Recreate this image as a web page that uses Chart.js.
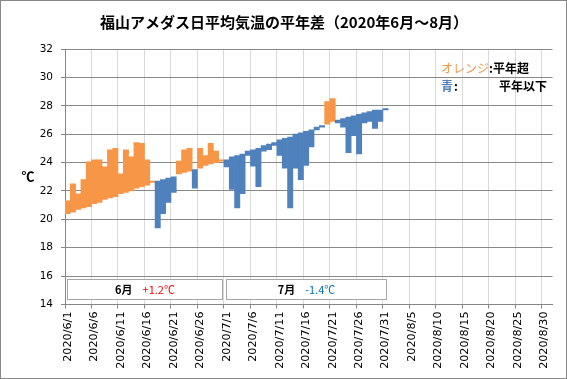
<!DOCTYPE html>
<html><head><meta charset="utf-8">
<script src="https://cdn.jsdelivr.net/npm/chart.js@4/dist/chart.umd.min.js"></script>
<style>html,body{margin:0;padding:0;background:#fff;}canvas{display:block;}</style>
</head><body>
<canvas id="c" width="567" height="379"></canvas>
<script>
// Categories: every day 2020/6/1 .. 2020/8/31
const months = [6, 7, 8];
const monthDays = [30, 31, 31];
const categories = [];
months.forEach((m, k) => { for (let d = 1; d <= monthDays[k]; d++) categories.push('2020/' + m + '/' + d); });

// Normal (平年) daily mean temperature, 6/1 .. 7/31
const normalTemp = [
  20.4, 20.5, 20.7, 20.8, 20.9, 21.1, 21.2, 21.4, 21.5, 21.6,
  21.8, 21.9, 22.0, 22.2, 22.3, 22.4, 22.6, 22.7, 22.8, 22.9,
  23.0, 23.2, 23.3, 23.4, 23.5, 23.6, 23.8, 23.9, 24.0, 24.1,
  24.2, 24.4, 24.5, 24.6, 24.8, 24.9, 25.0, 25.2, 25.3, 25.4,
  25.6, 25.7, 25.8, 26.0, 26.1, 26.2, 26.3, 26.5, 26.6, 26.7,
  26.9, 27.0, 27.1, 27.2, 27.3, 27.4, 27.5, 27.6, 27.7, 27.7,
  27.8
];
// Observed daily mean temperature, 6/1 .. 7/31
const actualTemp = [
  21.3, 22.5, 21.8, 22.8, 24.05, 24.2, 24.2, 23.7, 24.9, 25.0,
  23.2, 24.9, 24.4, 25.4, 25.35, 24.2, 22.7, 19.4, 20.4, 21.2,
  21.9, 24.1, 24.9, 25.0, 22.2, 25.0, 24.5, 25.35, 24.8, 24.2,
  23.7, 22.1, 20.8, 21.8, 24.5, 23.75, 22.3, 24.8, 24.9, 25.2,
  24.5, 23.6, 20.8, 23.6, 22.8, 23.8, 25.1, 26.3, 26.5, 28.3,
  28.5, 26.8, 26.5, 24.7, 25.9, 24.6, 26.8, 26.9, 26.4, 26.9,
  27.7
];
const yMin = 14, yMax = 32, yStep = 2;
const monthSummary = [
  { label: '6月', diff: '+1.2℃', color: '#FF0000' },
  { label: '7月', diff: '-1.4℃', color: '#0070C0' }
];

const ORANGE = '#F79646', BLUE = '#4F81BD';
const barData = categories.map((c, i) => i < actualTemp.length ? [normalTemp[i], actualTemp[i]] : null);
const barColors = categories.map((c, i) => i < actualTemp.length && actualTemp[i] > normalTemp[i] ? ORANGE : BLUE);

const JP = '"Noto Sans CJK JP", "DejaVu Sans", sans-serif';

const overlay = {
  id: 'overlay',
  afterDatasetsDraw(chart) {
    const ctx = chart.ctx;
    const xs = chart.scales.x;
    ctx.save();
    const boxY1 = 279.5, boxY2 = 299.5;
    const spans = [[0, 29], [30, 60]];
    spans.forEach((s, k) => {
      const half = (xs.getPixelForValue(1) - xs.getPixelForValue(0)) / 2;
      const x1 = Math.round(xs.getPixelForValue(s[0]) - half) + 2.5;
      const x2 = Math.round(xs.getPixelForValue(s[1]) + half) - 1.5;
      ctx.fillStyle = '#fff';
      ctx.fillRect(x1, boxY1, x2 - x1, boxY2 - boxY1);
      ctx.strokeStyle = '#A6A6A6';
      ctx.lineWidth = 1;
      ctx.strokeRect(x1, boxY1, x2 - x1, boxY2 - boxY1);
      const m = monthSummary[k];
      ctx.textBaseline = 'middle';
      ctx.textAlign = 'left';
      const cx = (x1 + x2) / 2;
      ctx.font = 'bold 11px ' + JP;
      const w1 = ctx.measureText(m.label).width;
      ctx.font = '11px ' + JP;
      const w2 = ctx.measureText(m.diff).width;
      const gap = 10;
      let sx = cx - (w1 + gap + w2) / 2;
      ctx.font = 'bold 11px ' + JP;
      ctx.fillStyle = '#000';
      ctx.fillText(m.label, sx, 289.5);
      ctx.font = '11px ' + JP;
      ctx.fillStyle = m.color;
      ctx.fillText(m.diff, sx + w1 + gap, 289.5);
    });
    ctx.restore();
  },
  afterDraw(chart) {
    const ctx = chart.ctx;
    ctx.save();
    ctx.fillStyle = '#000';
    ctx.font = 'bold 15px ' + JP;
    ctx.textAlign = 'center';
    ctx.textBaseline = 'middle';
    ctx.fillText('福山アメダス日平均気温の平年差（2020年6月～8月）', 284, 22.5);
    ctx.font = 'bold 13px ' + JP;
    ctx.fillText('℃', 28, 176);
    ctx.textAlign = 'left';
    ctx.font = '12px ' + JP;
    ctx.fillStyle = ORANGE;
    ctx.fillText('オレンジ', 441, 68.5);
    let w = ctx.measureText('オレンジ').width;
    ctx.font = 'bold 12px ' + JP;
    ctx.fillStyle = '#000';
    ctx.fillText(':平年超', 441 + w, 68.5);
    ctx.fillStyle = BLUE;
    ctx.fillText('青', 441, 86);
    let w2 = ctx.measureText('青').width;
    ctx.fillStyle = '#000';
    ctx.fillText(':', 441 + w2 + 1, 86);
    ctx.fillText('平年以下', 499, 86);
    ctx.strokeStyle = '#888';
    ctx.lineWidth = 1;
    ctx.strokeRect(0.5, 0.5, 566, 378);
    ctx.restore();
  }
};

new Chart(document.getElementById('c'), {
  type: 'bar',
  data: {
    labels: categories,
    datasets: [{
      data: barData,
      backgroundColor: barColors,
      borderWidth: 0,
      barPercentage: 1.0,
      categoryPercentage: 1.0
    }]
  },
  options: {
    responsive: false,
    animation: false,
    devicePixelRatio: 1,
    layout: { padding: { top: 49, left: 0, right: 14.5, bottom: 0 } },
    plugins: { legend: { display: false }, title: { display: false }, tooltip: { enabled: false } },
    scales: {
      x: {
        type: 'category',
        offset: true,
        afterFit(s) { s.height = 379 - 304.5; },
        border: { color: '#868686', width: 1 },
        grid: {
          offset: true,
          drawTicks: true,
          tickLength: 4,
          color: (c) => (c.index % 5 === 0 && c.index < categories.length) ? '#D9D9D9' : 'rgba(0,0,0,0)',
          tickColor: (c) => (c.index % 5 === 0 && c.index < categories.length) ? '#868686' : 'rgba(0,0,0,0)'
        },
        ticks: {
          autoSkip: false,
          minRotation: 90,
          maxRotation: 90,
          padding: 3,
          color: '#000',
          font: { family: '"DejaVu Sans", sans-serif', size: 11.2 },
          callback(v, i) { return i % 5 === 0 ? categories[i] : ''; }
        }
      },
      y: {
        min: yMin,
        max: yMax,
        afterFit(s) { s.width = 65; },
        border: { color: '#868686', width: 1 },
        grid: { color: '#898989', tickLength: 4, tickColor: '#868686' },
        ticks: {
          stepSize: yStep,
          padding: 8,
          color: '#000',
          font: { family: '"DejaVu Sans", sans-serif', size: 10.5 }
        }
      }
    }
  },
  plugins: [overlay]
});
</script>
</body></html>
